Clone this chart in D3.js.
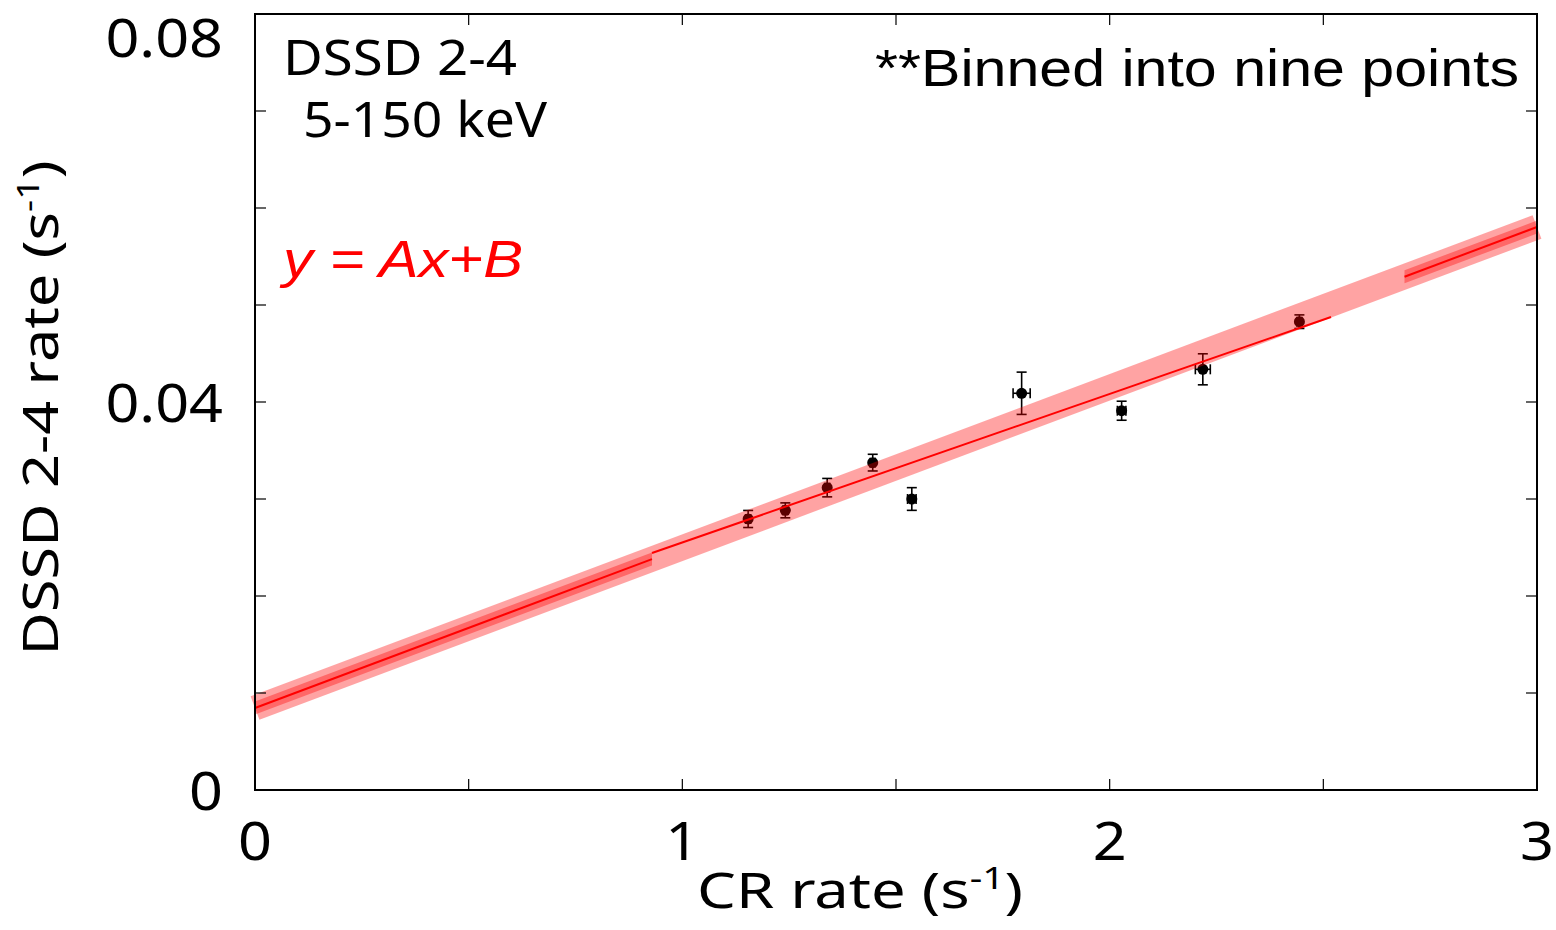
<!DOCTYPE html>
<html>
<head>
<meta charset="utf-8">
<script src="https://cdn.jsdelivr.net/npm/d3@7"></script>
<style>
  body { margin: 0; background: #fff; }
  text { font-family: "Noto Sans", sans-serif; fill: #000; }
</style>
</head>
<body>
<div id="chart"></div>
<script>
// chart size
const width = 1556;
const height = 930;
const margin = {top: 14, right: 19, bottom: 140, left: 255};
const plotW = width - margin.left - margin.right;
const plotH = height - margin.top - margin.bottom;

// binned points (CR rate vs DSSD 2-4 rate)
const crRate   = [1.154, 1.241, 1.339, 1.4455, 1.537, 1.794, 2.028, 2.218, 2.444];
const crErr    = [0.006, 0.006, 0.006, 0.006, 0.010, 0.020, 0.010, 0.0175, 0.006];
const dssdRate = [0.02794, 0.02883, 0.03117, 0.03375, 0.0300, 0.0409, 0.0391, 0.04337, 0.04828];
const dssdErr  = [0.00088, 0.00077, 0.00095, 0.00086, 0.00117, 0.00218, 0.00098, 0.0016, 0.0007];

// fits y = Ax + B
const fitOuter = {A: 0.01653, B: 0.00845};
const fitInner = {A: 0.01531, B: 0.01021};
const outerSegments = [[0, 0.929], [2.69, 3]];
const innerSegment = [0.929, 2.518];
const bandHalf = 0.00067;

// ticks
const xTicks = [0, 0.5, 1, 1.5, 2, 2.5, 3];
const xLabels = ["0", "", "1", "", "2", "", "3"];
const yTicks = [0, 0.01, 0.02, 0.03, 0.04, 0.05, 0.06, 0.07, 0.08];
const yLabels = ["0", "", "", "", "0.04", "", "", "", "0.08"];

const svg = d3.select("#chart")
    .append("svg")
    .attr("width", width)
    .attr("height", height);

const g = svg.append("g")
    .attr("transform", `translate(${margin.left},${margin.top})`);

const x = d3.scaleLinear().domain([0, 3]).range([0, plotW]);
const y = d3.scaleLinear().domain([0, 0.08]).range([plotH, 0]);

const points = crRate.map((d, i) => ({x: d, y: dssdRate[i], ex: crErr[i], ey: dssdErr[i]}));

// error bars
const cap = 5;
const bars = g.append("g")
    .attr("stroke", "#000")
    .attr("stroke-width", 1.6);

points.forEach(p => {
    const cx = x(p.x), cy = y(p.y);
    const y1 = y(p.y + p.ey), y2 = y(p.y - p.ey);
    const x1 = x(p.x - p.ex), x2 = x(p.x + p.ex);
    bars.append("line").attr("x1", cx).attr("x2", cx).attr("y1", y1).attr("y2", y2);
    bars.append("line").attr("x1", cx - cap).attr("x2", cx + cap).attr("y1", y1).attr("y2", y1);
    bars.append("line").attr("x1", cx - cap).attr("x2", cx + cap).attr("y1", y2).attr("y2", y2);
    bars.append("line").attr("x1", x1).attr("x2", x2).attr("y1", cy).attr("y2", cy);
    bars.append("line").attr("x1", x1).attr("x2", x1).attr("y1", cy - cap).attr("y2", cy + cap);
    bars.append("line").attr("x1", x2).attr("x2", x2).attr("y1", cy - cap).attr("y2", cy + cap);
});

g.selectAll(".pt")
    .data(points)
    .enter()
    .append("circle")
    .attr("class", "pt")
    .attr("cx", d => x(d.x))
    .attr("cy", d => y(d.y))
    .attr("r", 5.5)
    .attr("fill", "#000");

// wide band over whole range
const fitLine = d3.line()
    .x(d => x(d))
    .y(d => y(fitOuter.A * d + fitOuter.B));

g.append("path")
    .attr("d", fitLine([0, 3]))
    .attr("fill", "none")
    .attr("stroke", "#ff0000")
    .attr("stroke-opacity", 0.36)
    .attr("stroke-width", 25)
    .attr("stroke-linecap", "butt");

// inner bands outside the data range
const bandArea = d3.area()
    .x(d => x(d))
    .y0(d => y(fitOuter.A * d + fitOuter.B - bandHalf))
    .y1(d => y(fitOuter.A * d + fitOuter.B + bandHalf));

outerSegments.forEach(s => {
    g.append("path")
        .attr("d", bandArea(s))
        .attr("fill", "#ff0000")
        .attr("fill-opacity", 0.36);
    g.append("path")
        .attr("d", fitLine(s))
        .attr("fill", "none")
        .attr("stroke", "#ff0000")
        .attr("stroke-width", 2);
});

g.append("path")
    .attr("d", d3.line()
        .x(d => x(d))
        .y(d => y(fitInner.A * d + fitInner.B))(innerSegment))
    .attr("fill", "none")
    .attr("stroke", "#ff0000")
    .attr("stroke-width", 2);

// ticks (inward, all four sides)
const tickLen = 11;
const ticks = g.append("g").attr("stroke", "#000").attr("stroke-width", 1.2);
xTicks.forEach(t => {
    ticks.append("line").attr("x1", x(t)).attr("x2", x(t)).attr("y1", plotH).attr("y2", plotH - tickLen);
    ticks.append("line").attr("x1", x(t)).attr("x2", x(t)).attr("y1", 0).attr("y2", tickLen);
});
yTicks.forEach(t => {
    ticks.append("line").attr("x1", 0).attr("x2", tickLen).attr("y1", y(t)).attr("y2", y(t));
    ticks.append("line").attr("x1", plotW).attr("x2", plotW - tickLen).attr("y1", y(t)).attr("y2", y(t));
});

// frame
g.append("rect")
    .attr("width", plotW)
    .attr("height", plotH)
    .attr("fill", "none")
    .attr("stroke", "#000")
    .attr("stroke-width", 2);

// widen glyphs a little (reference font is wider than Noto Sans)
function widen(sel, k) {
    sel.each(function () {
        const len = this.getComputedTextLength();
        if (len > 0) {
            d3.select(this)
                .attr("textLength", len * k)
                .attr("lengthAdjust", "spacingAndGlyphs");
        }
    });
}

// tick labels
g.selectAll(".xl")
    .data(xTicks)
    .enter()
    .append("text")
    .attr("class", "xl")
    .attr("x", d => x(d))
    .attr("y", plotH + 70)
    .attr("text-anchor", "middle")
    .style("font-size", "53px")
    .text((d, i) => xLabels[i])
    .call(widen, 1.12);

g.selectAll(".yl")
    .data(yTicks)
    .enter()
    .append("text")
    .attr("class", "yl")
    .attr("x", -32)
    .attr("y", d => Math.max(y(d) + 20, 43))
    .attr("text-anchor", "end")
    .style("font-size", "52px")
    .text((d, i) => yLabels[i])
    .call(widen, 1.14);

// axis titles
const xt = svg.append("text")
    .attr("x", 860)
    .attr("y", 908)
    .attr("text-anchor", "middle")
    .attr("textLength", 326)
    .attr("lengthAdjust", "spacingAndGlyphs")
    .style("font-size", "49px");
xt.append("tspan").text("CR rate (s");
xt.append("tspan").attr("dy", -19).style("font-size", "31px").text("-1");
xt.append("tspan").attr("dy", 19).text(")");

const yt = svg.append("text")
    .attr("transform", "translate(58,408) rotate(-90)")
    .attr("text-anchor", "middle")
    .attr("textLength", 495)
    .attr("lengthAdjust", "spacingAndGlyphs")
    .style("font-size", "49px");
yt.append("tspan").text("DSSD 2-4 rate (s");
yt.append("tspan").attr("dy", -19).style("font-size", "31px").text("-1");
yt.append("tspan").attr("dy", 19).text(")");

// annotations
svg.append("text")
    .attr("x", 283).attr("y", 75)
    .style("font-size", "50px")
    .attr("textLength", 234)
    .attr("lengthAdjust", "spacingAndGlyphs")
    .text("DSSD 2-4");

svg.append("text")
    .attr("x", 303).attr("y", 137)
    .style("font-size", "50px")
    .attr("textLength", 244)
    .attr("lengthAdjust", "spacingAndGlyphs")
    .text("5-150 keV");

svg.append("text")
    .attr("x", 1519).attr("y", 86)
    .attr("text-anchor", "end")
    .style("font-family", "'Liberation Sans', Arial, sans-serif")
    .style("font-size", "52px")
    .attr("textLength", 644)
    .attr("lengthAdjust", "spacingAndGlyphs")
    .text("**Binned into nine points");

svg.append("text")
    .attr("x", 283).attr("y", 277)
    .style("font-family", "'Liberation Sans', Arial, sans-serif")
    .style("font-style", "italic")
    .style("font-size", "52px")
    .style("fill", "#ff0000")
    .attr("textLength", 240)
    .attr("lengthAdjust", "spacingAndGlyphs")
    .text("y = Ax+B");
</script>
</body>
</html>
